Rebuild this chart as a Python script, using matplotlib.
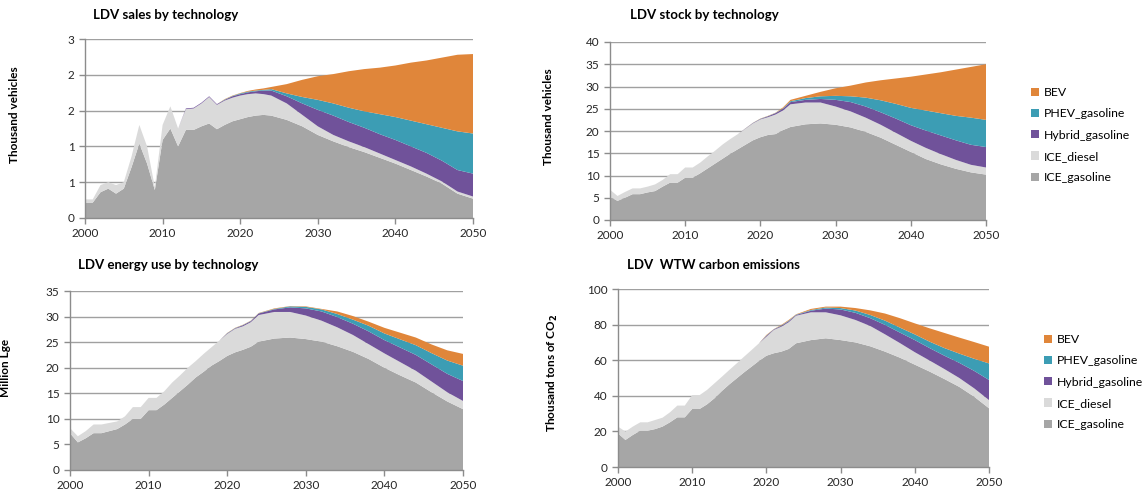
import matplotlib
matplotlib.use('Agg')
import matplotlib.pyplot as plt
from matplotlib.patches import Patch

plt.rcParams['font.family'] = ['Lato', 'DejaVu Sans']

# Años del escenario
years = list(range(2000, 2025)) + list(range(2026, 2051, 2))

techs = ['ICE_gasoline', 'ICE_diesel', 'Hybrid_gasoline', 'PHEV_gasoline', 'BEV']
colors = ['#A6A6A6', '#DADADA', '#70529A', '#3C9DB4', '#E0863A']

# Ventas (miles de vehículos)
sales_gas = [0.215, 0.215, 0.36, 0.41, 0.34, 0.41, 0.71, 1.04, 0.76, 0.39,
             1.09, 1.25, 1.00, 1.23, 1.23, 1.28, 1.32, 1.24, 1.30, 1.35,
             1.38, 1.41, 1.43, 1.44, 1.43,
             1.37, 1.28, 1.16, 1.07, 0.99, 0.92, 0.84, 0.76, 0.67, 0.58, 0.48, 0.34, 0.27]
sales_diesel = [0.045, 0.045, 0.10, 0.09, 0.12, 0.09, 0.15, 0.26, 0.24, 0.04,
                0.21, 0.31, 0.25, 0.29, 0.30, 0.32, 0.37, 0.34, 0.34, 0.33,
                0.33, 0.32, 0.31, 0.29, 0.28,
                0.23, 0.16, 0.12, 0.09, 0.08, 0.07, 0.06, 0.05, 0.05, 0.04, 0.03, 0.03, 0.03]
sales_hybrid = [0, 0, 0, 0, 0, 0, 0, 0, 0, 0,
                0, 0, 0, 0.01, 0.01, 0.01, 0.01, 0.01, 0.01, 0.02,
                0.02, 0.025, 0.03, 0.05, 0.07,
                0.10, 0.16, 0.23, 0.27, 0.27, 0.27, 0.27, 0.28, 0.28, 0.29, 0.29, 0.30, 0.32]
sales_phev = [0, 0, 0, 0, 0, 0, 0, 0, 0, 0,
              0, 0, 0, 0, 0, 0, 0, 0, 0.005, 0.005,
              0.01, 0.01, 0.01, 0.01, 0.02,
              0.04, 0.09, 0.14, 0.17, 0.20, 0.23, 0.28, 0.32, 0.36, 0.40, 0.46, 0.54, 0.56]
sales_bev = [0, 0, 0, 0, 0, 0, 0, 0, 0, 0,
             0, 0, 0, 0, 0, 0, 0, 0, 0.005, 0.005,
             0.005, 0.01, 0.015, 0.02, 0.03,
             0.13, 0.24, 0.33, 0.41, 0.51, 0.59, 0.65, 0.72, 0.81, 0.89, 0.98, 1.07, 1.11]

# Parque vehicular (miles de vehículos)
stock_gas = [5.2, 4.3, 5.0, 5.8, 5.8, 6.2, 6.5, 7.5, 8.4, 8.4,
             9.5, 9.5, 10.5, 11.6, 12.7, 13.8, 14.9, 15.9, 16.9, 17.9,
             18.6, 19.1, 19.3, 20.2, 20.9,
             21.5, 21.7, 21.4, 20.8, 19.8, 18.5, 16.9, 15.3, 13.7, 12.5, 11.5, 10.7, 10.2]
stock_diesel = [1.6, 1.1, 1.3, 1.3, 1.3, 1.3, 1.5, 1.5, 1.9, 1.9,
                2.3, 2.3, 2.4, 2.7, 2.9, 3.2, 3.3, 3.4, 3.6, 3.8,
                4.0, 4.0, 4.4, 4.4, 5.1,
                4.9, 4.7, 4.1, 3.6, 3.2, 2.9, 2.7, 2.5, 2.5, 2.3, 2.0, 1.7, 1.6]
stock_hybrid = [0, 0, 0, 0, 0, 0, 0, 0, 0, 0,
                0, 0, 0, 0, 0, 0, 0, 0, 0.05, 0.08,
                0.1, 0.2, 0.3, 0.4, 0.5,
                0.6, 0.8, 1.5, 2.1, 2.5, 2.8, 3.2, 3.5, 3.9, 4.2, 4.4, 4.5, 4.6]
stock_phev = [0, 0, 0, 0, 0, 0, 0, 0, 0, 0,
              0, 0, 0, 0, 0, 0, 0, 0, 0.02, 0.03,
              0.05, 0.05, 0.05, 0.1, 0.2,
              0.4, 0.6, 0.9, 1.3, 2.0, 2.7, 3.3, 3.9, 4.5, 5.0, 5.5, 6.1, 6.1]
stock_bev = [0, 0, 0, 0, 0, 0, 0, 0, 0, 0,
             0, 0, 0, 0, 0, 0, 0, 0, 0.02, 0.03,
             0.05, 0.05, 0.05, 0.2, 0.3,
             0.5, 1.0, 1.7, 2.4, 3.4, 4.5, 5.7, 7.0, 8.1, 9.2, 10.4, 11.4, 12.5]

# Uso de energía (millones de Lge)
energy_gas = [7.2, 5.4, 6.2, 7.2, 7.2, 7.6, 8.0, 8.9, 10.0, 10.0,
              11.7, 11.7, 12.8, 14.1, 15.4, 16.7, 18.1, 19.2, 20.4, 21.3,
              22.3, 23.0, 23.5, 24.1, 25.1,
              25.7, 25.9, 25.6, 25.1, 24.2, 23.1, 21.7, 20.0, 18.5, 17.1, 15.2, 13.4, 11.9]
energy_diesel = [1.0, 1.2, 1.4, 1.7, 1.7, 1.6, 1.5, 1.6, 2.3, 2.3,
                 2.4, 2.4, 2.6, 3.0, 3.1, 3.3, 3.2, 3.5, 3.6, 4.0,
                 4.3, 4.6, 4.6, 4.8, 5.2,
                 5.2, 5.0, 4.6, 4.1, 3.7, 3.3, 2.9, 2.8, 2.6, 2.3, 2.1, 1.8, 1.6]
energy_hybrid = [0, 0, 0, 0, 0, 0, 0, 0, 0, 0,
                 0, 0, 0, 0, 0, 0, 0, 0, 0, 0,
                 0.1, 0.1, 0.2, 0.2, 0.3,
                 0.5, 0.9, 1.4, 1.8, 2.0, 2.2, 2.5, 2.6, 2.85, 3.1, 3.35, 3.6, 3.9]
energy_phev = [0, 0, 0, 0, 0, 0, 0, 0, 0, 0,
               0, 0, 0, 0, 0, 0, 0, 0, 0, 0,
               0.05, 0.05, 0.05, 0.05, 0.05,
               0.1, 0.2, 0.3, 0.4, 0.6, 0.8, 1.1, 1.3, 1.6, 1.9, 2.2, 2.6, 3.0]
energy_bev = [0, 0, 0, 0, 0, 0, 0, 0, 0, 0,
              0, 0, 0, 0, 0, 0, 0, 0, 0, 0,
              0.05, 0.05, 0.05, 0.05, 0.05,
              0.1, 0.05, 0.1, 0.1, 0.5, 0.7, 0.8, 1.1, 1.3, 1.5, 1.7, 2.0, 2.3]

# Emisiones WTW (miles de toneladas de CO2)
co2_gas = [18.9, 15.2, 18.0, 20.4, 20.4, 21.3, 22.7, 25.1, 27.9, 27.9,
           32.6, 32.6, 35.2, 38.6, 42.7, 46.4, 49.8, 53.2, 56.4, 59.6,
           62.5, 63.9, 64.8, 66.3, 69.5,
           71.3, 72.3, 71.3, 70.0, 67.8, 64.8, 61.4, 57.5, 53.6, 49.4, 45.0, 39.5, 33.0]
co2_diesel = [3.8, 4.7, 4.7, 4.7, 4.7, 5.1, 5.0, 5.6, 6.6, 6.6,
              7.8, 7.8, 8.1, 8.4, 8.0, 8.1, 8.4, 8.8, 9.3, 9.9,
              10.7, 13.1, 14.0, 15.0, 15.5,
              15.6, 14.6, 13.9, 12.6, 11.4, 9.7, 8.2, 7.0, 6.2, 5.6, 5.0, 4.7, 4.6]
co2_hybrid = [0, 0, 0, 0, 0, 0, 0, 0, 0, 0,
              0, 0, 0, 0, 0, 0, 0, 0, 0, 0,
              0.5, 0.3, 0.5, 0.6, 0.4,
              0.9, 2.1, 3.3, 4.0, 4.4, 5.3, 5.9, 6.8, 7.0, 7.5, 8.5, 9.8, 11.3]
co2_phev = [0, 0, 0, 0, 0, 0, 0, 0, 0, 0,
            0, 0, 0, 0, 0, 0, 0, 0, 0, 0,
            0.2, 0.1, 0.2, 0.3, 0.2,
            0.4, 0.6, 0.8, 1.3, 1.8, 2.4, 2.8, 3.2, 3.6, 4.3, 5.2, 6.8, 9.3]
co2_bev = [0, 0, 0, 0, 0, 0, 0, 0, 0, 0,
           0, 0, 0, 0, 0, 0, 0, 0, 0, 0,
           0.3, 0.1, 0.3, 0.4, 0.2,
           0.6, 0.5, 0.8, 1.4, 2.6, 4.0, 5.3, 6.2, 7.5, 8.5, 9.0, 9.4, 9.4]

sales_yticks = [0, 0.5, 1.0, 1.5, 2.0, 2.5]
sales_ylabels = ['0', '1', '1', '2', '2', '3']
xticks = [2000, 2010, 2020, 2030, 2040, 2050]

GRID = '#A0A0A0'
AXIS = '#8C8C8C'


def area_panel(fig, rect, series, ymax, ystep, title, title_pos, ylabel, ylabel_pos):
    """
    Dibuja un gráfico de áreas apiladas por tecnología.
    """
    ax = fig.add_axes(rect)
    ax.stackplot(years, *series, colors=colors, linewidth=0)
    ax.set_xlim(2000, 2050)
    ax.set_ylim(0, ymax)
    ax.set_xticks(xticks)
    yt = [ystep * i for i in range(int(round(ymax / ystep)) + 1)]
    ax.set_yticks(yt)
    ax.set_axisbelow(True)
    ax.yaxis.grid(True, color=GRID, linewidth=1.0)
    for s in ['top', 'right']:
        ax.spines[s].set_visible(False)
    for s in ['left', 'bottom']:
        ax.spines[s].set_color(AXIS)
        ax.spines[s].set_linewidth(1.0)
    ax.tick_params(axis='both', colors=AXIS, labelcolor='#262626',
                   labelsize=8.5, length=4, width=1.0, direction='out')
    fig.text(title_pos[0] / 1144.0, 1 - title_pos[1] / 496.0, title,
             fontsize=9.5, fontweight='bold', ha='left', va='center')
    fig.text(ylabel_pos[0] / 1144.0, 1 - ylabel_pos[1] / 496.0, ylabel,
             fontsize=8.5, fontweight='bold', rotation=90, ha='center', va='center')
    return ax


def legend_at(fig, x, y):
    """
    Leyenda de tecnologías (orden inverso al apilado).
    """
    handles = [Patch(facecolor=c, edgecolor='none') for c in colors[::-1]]
    fig.legend(handles, techs[::-1], loc='upper left',
               bbox_to_anchor=(x / 1144.0, 1 - y / 496.0), frameon=False,
               fontsize=8.8, handlelength=0.65, handleheight=0.65,
               handletextpad=0.4, labelspacing=0.84, borderpad=0, borderaxespad=0)


fig = plt.figure(figsize=(11.44, 4.96), dpi=100)

ax = area_panel(fig, [85 / 1144., 1 - 218 / 496., 388 / 1144., 179 / 496.],
                [sales_gas, sales_diesel, sales_hybrid, sales_phev, sales_bev],
                2.5, 0.5, 'LDV sales by technology', (93, 15),
                'Thousand vehicles', (15, 115))
ax.set_yticks(sales_yticks)
ax.set_yticklabels(sales_ylabels)

area_panel(fig, [610 / 1144., 1 - 220 / 496., 376 / 1144., 178 / 496.],
           [stock_gas, stock_diesel, stock_hybrid, stock_phev, stock_bev],
           40, 5, 'LDV stock by technology', (630, 15),
           'Thousand vehicles', (548, 117))

area_panel(fig, [70 / 1144., 1 - 470 / 496., 393 / 1144., 179 / 496.],
           [energy_gas, energy_diesel, energy_hybrid, energy_phev, energy_bev],
           35, 5, 'LDV energy use by technology', (78, 265),
           'Million Lge', (6, 368))

area_panel(fig, [618 / 1144., 1 - 467 / 496., 371 / 1144., 178 / 496.],
           [co2_gas, co2_diesel, co2_hybrid, co2_phev, co2_bev],
           100, 20, 'LDV  WTW carbon emissions', (627, 265),
           'Thousand tons of CO$_\\mathbf{2}$', (552, 373))

legend_at(fig, 1031, 87)
legend_at(fig, 1044, 334)

fig.savefig('out.png', dpi=100)
